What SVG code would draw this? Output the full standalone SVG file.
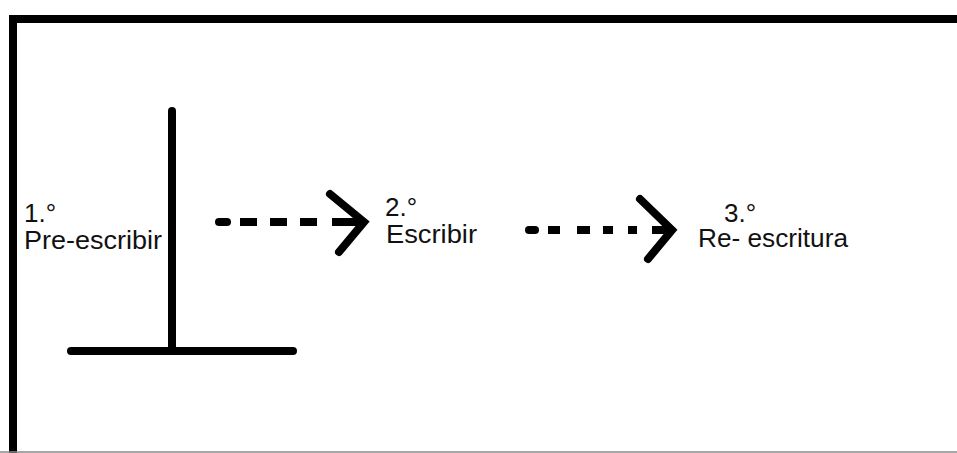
<svg xmlns="http://www.w3.org/2000/svg" width="957" height="453" viewBox="0 0 957 453">
<style>
.ln{stroke:#000;stroke-width:8;fill:none}
.rc{stroke-linecap:round}
.bt{stroke-linecap:butt}
.tx{font-family:"Liberation Sans",Arial,sans-serif;font-size:26px;fill:#111}
</style>
<rect x="0" y="0" width="957" height="453" fill="#fff"/>
<g id="frame">
<path class="ln" d="M13,453 V19 H957" stroke-linejoin="miter"/>
<line x1="0" y1="452" x2="957" y2="452" stroke="#888" stroke-width="1.5"/>
</g>
<g id="tshape">
<line class="ln rc" x1="172" y1="111" x2="172" y2="351"/>
<line class="ln rc" x1="71" y1="351" x2="293" y2="351"/>
</g>
<g id="node1">
<text class="tx" x="24" y="222">1.°</text>
<text class="tx" x="24" y="249" textLength="138" lengthAdjust="spacingAndGlyphs">Pre-escribir</text>
</g>
<g id="node2">
<text class="tx" x="385" y="216">2.°</text>
<text class="tx" x="386" y="243" textLength="91" lengthAdjust="spacingAndGlyphs">Escribir</text>
</g>
<g id="node3">
<text class="tx" x="724" y="222">3.°</text>
<text class="tx" x="698" y="247" textLength="150" lengthAdjust="spacingAndGlyphs">Re- escritura</text>
</g>
<g id="connectors">
<g id="arrow1">
<line class="ln" x1="219" y1="222" x2="227" y2="222" stroke-linecap="round"/>
<line class="ln bt" x1="240" y1="222" x2="257" y2="222"/>
<line class="ln bt" x1="270" y1="222" x2="287" y2="222"/>
<line class="ln bt" x1="300" y1="222" x2="317" y2="222"/>
<line class="ln bt" x1="332" y1="222" x2="362" y2="222"/>
<polyline class="ln rc" points="330,194 364,222 339,252"/>
</g>
<g id="arrow2">
<line class="ln" x1="529" y1="230" x2="535" y2="230" stroke-linecap="round"/>
<line class="ln bt" x1="548" y1="230" x2="560" y2="230"/>
<line class="ln bt" x1="577" y1="230" x2="590" y2="230"/>
<line class="ln bt" x1="603" y1="230" x2="613" y2="230"/>
<line class="ln bt" x1="628" y1="230" x2="637" y2="230"/>
<line class="ln bt" x1="652" y1="230" x2="671" y2="230"/>
<polyline class="ln rc" points="640,199 672,230 648,259"/>
</g>
</g>
</svg>
